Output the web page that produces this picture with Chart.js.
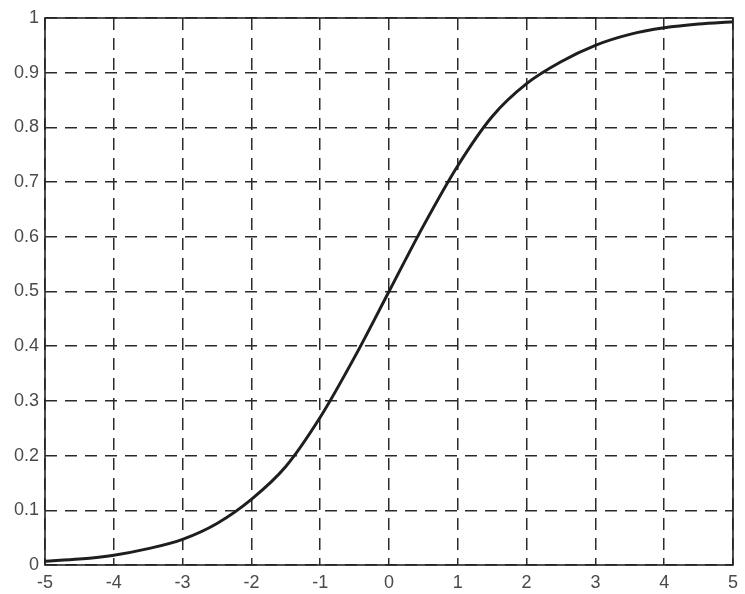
<!DOCTYPE html>
<html>
<head>
<meta charset="utf-8">
<script src="https://cdn.jsdelivr.net/npm/chart.js@4"></script>
<style>
  html, body { margin: 0; padding: 0; background: #fff; }
  #wrap { width: 745px; height: 594px; position: relative; }
</style>
</head>
<body>
<div id="wrap"><canvas id="chart"></canvas></div>
<script>
// values, every half unit
const xs = [-5, -4.5, -4, -3.5, -3, -2.5, -2, -1.5, -1, -0.5, 0, 0.5, 1, 1.5, 2, 2.5, 3, 3.5, 4, 4.5, 5];
const ys = [0.007, 0.011, 0.018, 0.03, 0.047, 0.076, 0.12, 0.18, 0.27, 0.38, 0.5, 0.62, 0.73, 0.82, 0.88, 0.92, 0.95, 0.97, 0.982, 0.989, 0.993];
const xTicks = [-5, -4, -3, -2, -1, 0, 1, 2, 3, 4, 5];
const yTicks = [0, 0.1, 0.2, 0.3, 0.4, 0.5, 0.6, 0.7, 0.8, 0.9, 1];

// solid box around the plot area (top + right too)
const boxPlugin = {
  id: 'box',
  afterDraw(chart) {
    const a = chart.chartArea, c = chart.ctx;
    c.save();
    c.strokeStyle = '#222';
    c.lineWidth = 1.6;
    c.setLineDash([]);
    c.strokeRect(a.left, a.top, a.right - a.left, a.bottom - a.top);
    c.restore();
  }
};

const gridStyle = {
  color: '#2a2a2a',
  lineWidth: 1.5,
  drawTicks: false
};
const tickFont = { family: '"Liberation Sans", Arial, sans-serif', size: 18 };

new Chart(document.getElementById('chart'), {
  type: 'line',
  data: {
    datasets: [{
      data: xs.map((x, i) => ({x: x, y: ys[i]})),
      borderColor: '#1e1e1e',
      borderWidth: 3,
      pointRadius: 0,
      cubicInterpolationMode: 'monotone',
      fill: false
    }]
  },
  plugins: [boxPlugin],
  options: {
    responsive: true,
    maintainAspectRatio: false,
    animation: false,
    events: [],
    layout: { padding: { top: 18, right: 6, left: 0, bottom: 0 } },
    plugins: { legend: false, tooltip: { enabled: false } },
    scales: {
      x: {
        type: 'linear',
        min: -5, max: 5,
        afterBuildTicks: s => { s.ticks = xTicks.map(v => ({value: v})); },
        afterFit: s => { s.height = 29; },
        border: { display: false, dash: [12, 8] },
        grid: gridStyle,
        ticks: {
          color: '#4a4a4a',
          padding: 7,
          maxRotation: 0,
          autoSkip: false,
          font: tickFont,
          callback: v => String(v)
        }
      },
      y: {
        type: 'linear',
        min: 0, max: 1,
        afterBuildTicks: s => { s.ticks = yTicks.map(v => ({value: v})); },
        afterFit: s => { s.width = 45; },
        border: { display: false, dash: [12, 8] },
        grid: gridStyle,
        ticks: {
          color: '#4a4a4a',
          padding: 6,
          autoSkip: false,
          font: tickFont,
          callback: v => String(v)
        }
      }
    }
  }
});
</script>
</body>
</html>
